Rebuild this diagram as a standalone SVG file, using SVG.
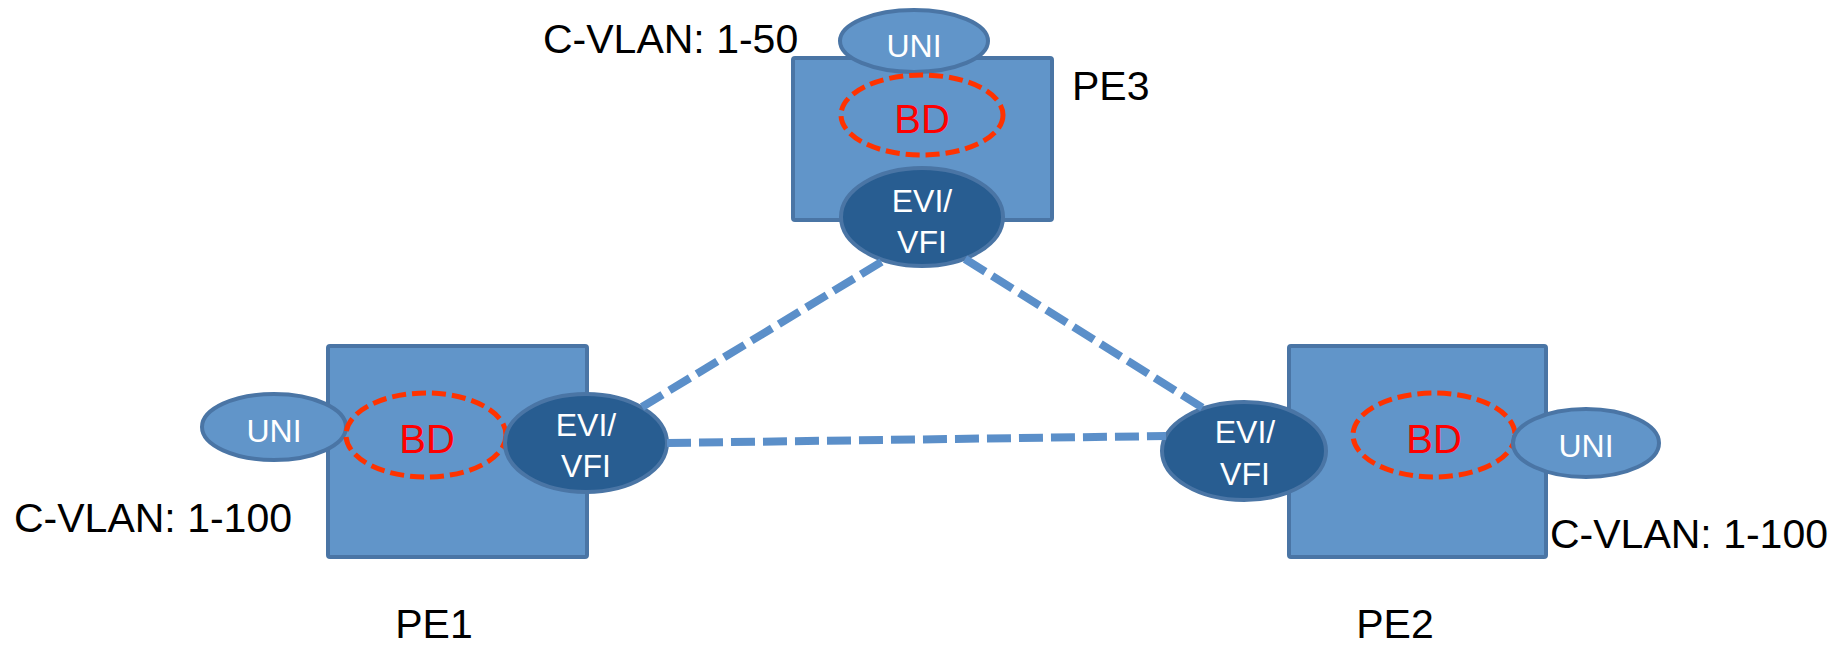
<svg xmlns="http://www.w3.org/2000/svg" width="1837" height="647" viewBox="0 0 1837 647">
  <style>
    .box { fill: #6195c9; stroke: #4a75a5; stroke-width: 4; }
    .uni { fill: #6195c9; stroke: #4a75a5; stroke-width: 4; }
    .evi { fill: #285d91; stroke: #4a75a5; stroke-width: 4; }
    .bd { fill: none; stroke: #ff3300; stroke-width: 5; stroke-dasharray: 14 6; }
    .link { fill: none; stroke: #5b8fc9; stroke-width: 8; stroke-dasharray: 24 8; }
    text { font-family: "Liberation Sans", Arial, sans-serif; }
    .w { fill: #ffffff; font-size: 32px; text-anchor: middle; }
    .r { fill: #ff0000; font-size: 40px; text-anchor: middle; }
    .k { fill: #000000; font-size: 41px; }
  </style>

  <!-- PE3 -->
  <g id="pe3">
    <rect class="box" x="793" y="58" width="259" height="162" rx="2"/>
    <ellipse class="uni" cx="914" cy="41" rx="74" ry="31"/>
    <text class="w" x="914" y="57">UNI</text>
    <ellipse class="bd" cx="922" cy="115" rx="81" ry="40"/>
    <text class="r" x="922" y="133">BD</text>
    <ellipse class="evi" cx="922" cy="217" rx="81" ry="49"/>
    <text class="w" x="922" y="212">EVI/</text>
    <text class="w" x="922" y="253">VFI</text>
  </g>

  <!-- PE1 -->
  <g id="pe1">
    <rect class="box" x="328" y="346" width="259" height="211" rx="2"/>
    <ellipse class="uni" cx="274" cy="427" rx="72" ry="33"/>
    <text class="w" x="274" y="442">UNI</text>
    <ellipse class="bd" cx="426" cy="435" rx="80" ry="42"/>
    <text class="r" x="427" y="453">BD</text>
    <ellipse class="evi" cx="586" cy="443" rx="81" ry="49"/>
    <text class="w" x="586" y="436">EVI/</text>
    <text class="w" x="586" y="477">VFI</text>
  </g>

  <!-- PE2 -->
  <g id="pe2">
    <rect class="box" x="1289" y="346" width="257" height="211" rx="2"/>
    <ellipse class="evi" cx="1244" cy="451" rx="82" ry="49"/>
    <text class="w" x="1245" y="443">EVI/</text>
    <text class="w" x="1245" y="485">VFI</text>
    <ellipse class="bd" cx="1434" cy="435" rx="81" ry="42"/>
    <text class="r" x="1434" y="453">BD</text>
    <ellipse class="uni" cx="1586" cy="443" rx="73" ry="34"/>
    <text class="w" x="1586" y="457">UNI</text>
  </g>

  <!-- pseudowire links between the EVI/VFI instances -->
  <g id="connectors">
    <line class="link" x1="642" y1="407" x2="883" y2="261"/>
    <line class="link" x1="965" y1="259" x2="1203" y2="408"/>
    <line class="link" x1="667" y1="443" x2="1166" y2="436"/>
  </g>

  <!-- labels -->
  <g id="labels">
    <text class="k" x="543" y="53">C-VLAN: 1-50</text>
    <text class="k" x="1072" y="100">PE3</text>
    <text class="k" x="14" y="532">C-VLAN: 1-100</text>
    <text class="k" x="1550" y="548">C-VLAN: 1-100</text>
    <text class="k" x="434" y="638" text-anchor="middle">PE1</text>
    <text class="k" x="1395" y="638" text-anchor="middle">PE2</text>
  </g>
</svg>
